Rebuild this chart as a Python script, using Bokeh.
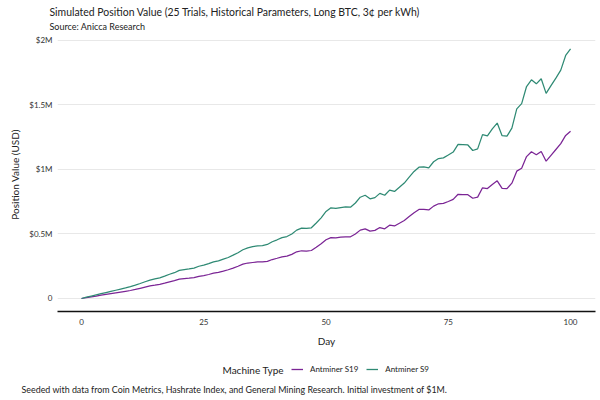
import numpy as np
from bokeh.plotting import figure
from bokeh.models import Label, Legend, LegendItem, FixedTicker, CustomJSTickFormatter, Range1d
from bokeh.layouts import column
from bokeh.embed import file_html
from bokeh.resources import INLINE

days = list(range(0, 101))

s9 = [0.000, 0.010, 0.019, 0.028, 0.037, 0.046, 0.055, 0.064, 0.073, 0.082,
      0.092, 0.103, 0.116, 0.130, 0.143, 0.152, 0.160, 0.173, 0.188, 0.200,
      0.218, 0.224, 0.229, 0.236, 0.250, 0.258, 0.270, 0.284, 0.292, 0.305,
      0.318, 0.336, 0.355, 0.378, 0.392, 0.402, 0.408, 0.410, 0.419, 0.440,
      0.455, 0.472, 0.480, 0.500, 0.530, 0.545, 0.543, 0.548, 0.585, 0.625,
      0.675, 0.703, 0.698, 0.705, 0.710, 0.708, 0.740, 0.785, 0.800, 0.773,
      0.782, 0.815, 0.800, 0.840, 0.830, 0.862, 0.895, 0.940, 0.985, 1.018,
      1.020, 1.013, 1.060, 1.085, 1.090, 1.112, 1.135, 1.194, 1.192, 1.190,
      1.147, 1.160, 1.270, 1.260, 1.315, 1.360, 1.262, 1.258, 1.320, 1.470,
      1.510, 1.643, 1.695, 1.664, 1.703, 1.590, 1.650, 1.708, 1.770, 1.884,
      1.935]

s19 = [0.000, 0.007, 0.013, 0.019, 0.026, 0.032, 0.038, 0.044, 0.050, 0.056,
       0.062, 0.070, 0.079, 0.088, 0.097, 0.103, 0.110, 0.119, 0.129, 0.138,
       0.150, 0.154, 0.157, 0.162, 0.172, 0.178, 0.186, 0.196, 0.202, 0.212,
       0.223, 0.236, 0.250, 0.266, 0.275, 0.279, 0.283, 0.284, 0.288, 0.302,
       0.312, 0.323, 0.328, 0.342, 0.362, 0.370, 0.368, 0.372, 0.398, 0.425,
       0.455, 0.472, 0.470, 0.475, 0.478, 0.478, 0.500, 0.530, 0.540, 0.522,
       0.528, 0.550, 0.540, 0.568, 0.562, 0.583, 0.605, 0.635, 0.665, 0.690,
       0.690, 0.686, 0.716, 0.734, 0.737, 0.752, 0.768, 0.808, 0.806, 0.805,
       0.777, 0.786, 0.858, 0.852, 0.884, 0.912, 0.853, 0.851, 0.894, 0.987,
       1.010, 1.100, 1.137, 1.114, 1.140, 1.064, 1.110, 1.155, 1.200, 1.264,
       1.297]

x_ticks = [0, 25, 50, 75, 100]
y_ticks = [0, 0.5, 1.0, 1.5, 2.0]
y_tick_labels = ["0", "$0.5M", "$1M", "$1.5M", "$2M"]

title_text = "Simulated Position Value (25 Trials, Historical Parameters, Long BTC, 3\u00a2 per kWh)"
subtitle_text = "Source: Anicca Research"
caption_text = "Seeded with data from Coin Metrics, Hashrate Index, and General Mining Research. Initial investment of $1M."
legend_title = "Machine Type"
series_names = ["Antminer S19", "Antminer S9"]
colors = ["#7b2595", "#2f8a74"]

FONT = "Lato"
TXT = "#222222"
W = 600


def text_fig(h):
    f = figure(width=W, height=h, output_backend="svg", toolbar_location=None,
               x_range=Range1d(0, W), y_range=Range1d(0, h),
               x_axis_type=None, y_axis_type=None,
               min_border=0, min_border_left=0, min_border_right=0,
               min_border_top=0, min_border_bottom=0, frame_align=False)
    f.title = None
    f.outline_line_color = None
    f.xgrid.grid_line_color = None
    f.ygrid.grid_line_color = None
    f.background_fill_color = "white"
    f.border_fill_color = "white"
    return f


def add_text(f, txt, x, y, size):
    f.add_layout(Label(x=x, y=y, x_units="screen", y_units="screen", text=txt,
                       text_font=FONT, text_font_size=size, text_color=TXT,
                       text_align="left", text_baseline="middle"))


# ---- header ----
TOP_H = 32
top = text_fig(TOP_H)
add_text(top, title_text, 49, TOP_H - 11, "10.45px")
add_text(top, subtitle_text, 49, TOP_H - 25.5, "9px")

# ---- main plot ----
MAIN_H = 320
p = figure(width=W, height=MAIN_H, output_backend="svg", toolbar_location=None,
           x_range=Range1d(-4.91, 105.1), y_range=Range1d(-0.1008, 2.023),
           min_border_left=57, min_border_right=5, min_border_top=5, min_border_bottom=41,
           frame_align=False)
p.title = None
p.outline_line_color = None
p.background_fill_color = "white"
p.border_fill_color = "white"

r19 = p.line(days, s19, line_color=colors[0], line_width=1.25)
r9 = p.line(days, s9, line_color=colors[1], line_width=1.25)

p.xaxis.ticker = FixedTicker(ticks=x_ticks)
p.yaxis.ticker = FixedTicker(ticks=y_ticks)
lab_map = ",".join('"%g":"%s"' % (t, l) for t, l in zip(y_ticks, y_tick_labels))
p.yaxis.formatter = CustomJSTickFormatter(code="""
var lab = {%s};
var k = String(Math.round(tick*10)/10);
return (k in lab) ? lab[k] : k;
""" % lab_map)
p.xaxis.axis_label = "Day"
p.yaxis.axis_label = "Position Value (USD)"
for ax in (p.xaxis[0], p.yaxis[0]):
    ax.axis_label_text_font = FONT
    ax.axis_label_text_font_style = "normal"
    ax.axis_label_text_font_size = "10px"
    ax.axis_label_text_color = TXT
    ax.major_label_text_font = FONT
    ax.major_label_text_font_size = "8px"
    ax.major_label_text_color = "#333333"
    ax.major_tick_line_color = None
    ax.minor_tick_line_color = None
    ax.major_tick_out = 0
    ax.major_tick_in = 0
    ax.minor_tick_out = 0
    ax.minor_tick_in = 0
p.yaxis.axis_line_color = None
p.xaxis.axis_line_color = "#111111"
p.xaxis.axis_line_width = 1.5
p.xaxis.major_label_standoff = 7
p.yaxis.major_label_standoff = 5
p.xaxis.axis_label_standoff = 7
p.yaxis.axis_label_standoff = 5

p.xgrid.grid_line_color = None
p.ygrid.grid_line_color = "#e8e8e8"
p.ygrid.grid_line_width = 1

# ---- footer: legend + caption ----
BOT_H = 400 - TOP_H - MAIN_H
bot = text_fig(BOT_H)
add_text(bot, legend_title, 222, BOT_H - 17, "10px")
add_text(bot, caption_text, 21, BOT_H - 37, "8.9px")
nan = np.array([np.nan])
d19 = bot.line(x=nan, y=nan, line_color=colors[0], line_width=1.3)
d9 = bot.line(x=nan, y=nan, line_color=colors[1], line_width=1.3)
legend = Legend(items=[LegendItem(label=series_names[0], renderers=[d19]),
                       LegendItem(label=series_names[1], renderers=[d9])],
                orientation="horizontal", location=(291, BOT_H - 17 - 6),
                label_text_font=FONT, label_text_font_size="8px", label_text_color=TXT,
                glyph_width=12, glyph_height=12, spacing=8, label_standoff=7,
                border_line_color=None, background_fill_alpha=0,
                margin=0, padding=0)
bot.add_layout(legend, "center")

layout = column(top, p, bot, spacing=0)
open("out.html", "w").write(file_html(layout, INLINE))
